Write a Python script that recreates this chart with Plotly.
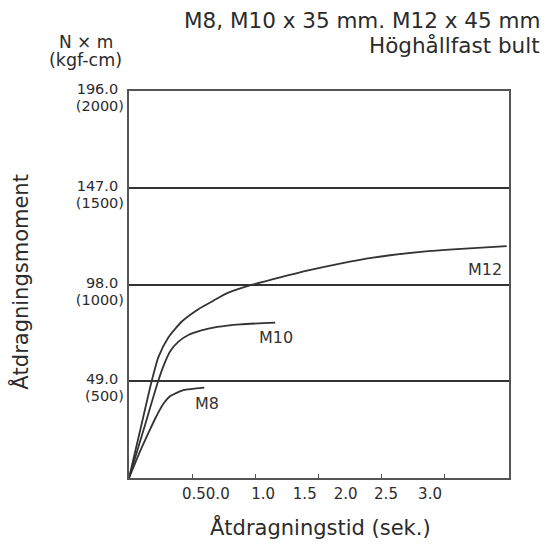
import plotly.graph_objects as go

# Data
m12_t = [0, 0.091, 0.178, 0.233, 0.313, 0.423, 0.550, 0.669, 0.779, 0.977, 1.143, 1.412, 1.673, 1.934, 2.330, 2.599, 2.994]
m12_v = [0, 24.8, 48.6, 61.2, 71.3, 79.5, 85.5, 89.8, 93.6, 97.9, 100.7, 105.0, 108.6, 111.6, 114.6, 115.9, 117.4]
m10_t = [0, 0.115, 0.229, 0.273, 0.328, 0.392, 0.471, 0.566, 0.700, 0.882, 1.159]
m10_v = [0, 24.3, 48.6, 56.7, 64.3, 69.1, 72.4, 74.6, 76.5, 77.8, 78.7]
m8_t = [0, 0.075, 0.154, 0.210, 0.265, 0.328, 0.431, 0.597]
m8_v = [0, 11.6, 22.8, 30.4, 36.9, 41.5, 44.5, 45.8]
series_names = ["M12", "M10", "M8"]

y_ticks = [49, 98, 147, 196]
y_tick_nm = ["49.0", "98.0", "147.0", "196.0"]
y_tick_kgf = ["(500)", "(1000)", "(1500)", "(2000)"]

x_tick_marks = [0.5, 1.0, 1.5, 2.0, 2.5]
x_label_pos = [0.609, 1.063, 1.393, 1.717, 2.037, 2.386]
x_label_text = ["0.50.0", "1.0", "1.5", "2.0", "2.5", "3.0"]

FONT = "DejaVu Sans"
INK = "#2b2b2b"
LINE = "#333333"

fig = go.Figure()
label_shift = {"M12": (-22, -23), "M10": (1, -15), "M8": (3, -16)}
for name, t, v in zip(series_names, [m12_t, m10_t, m8_t], [m12_v, m10_v, m8_v]):
    fig.add_trace(go.Scatter(x=t, y=v, mode="lines", line=dict(color=LINE, width=1.8, shape="spline", smoothing=0.6),
                             showlegend=False, hoverinfo="skip"))
    dx, dy = label_shift[name]
    fig.add_annotation(x=t[-1], y=v[-1], text=name, showarrow=False, xanchor="center", yanchor="middle",
                       xshift=dx, yshift=dy, font=dict(family=FONT, size=16, color="#333"))

# dummy traces so overlay axes render
fig.add_trace(go.Scatter(x=[None], y=[None], xaxis="x2", yaxis="y", showlegend=False))
fig.add_trace(go.Scatter(x=[None], y=[None], xaxis="x", yaxis="y2", showlegend=False))

XR = [0, 3.012]
YR = [0, 196]

fig.update_layout(
    width=546, height=546,
    margin=dict(l=128.5, r=37, t=91, b=68),
    paper_bgcolor="white", plot_bgcolor="white",
    font=dict(family=FONT, color=INK),
    xaxis=dict(range=XR, tickvals=x_tick_marks, showticklabels=False, ticks="inside", ticklen=4,
               tickcolor="#555", tickwidth=1.3, showgrid=False, zeroline=False,
               showline=True, linecolor="#555", linewidth=1.8, mirror=True),
    xaxis2=dict(range=XR, overlaying="x", anchor="y", side="bottom", tickvals=x_label_pos, ticktext=x_label_text,
                ticks="", showgrid=False, zeroline=False, showline=False,
                tickfont=dict(family=FONT, size=15, color=INK), ticklabelstandoff=5),
    yaxis=dict(range=YR, tickvals=y_ticks, ticktext=y_tick_nm, ticks="", showgrid=True, gridcolor="#333333",
               gridwidth=1.6, zeroline=False, showline=True, linecolor="#555", linewidth=1.8, mirror=True,
               tickfont=dict(family=FONT, size=14.5, color=INK), ticklabelshift=-2, ticklabelstandoff=6),
    yaxis2=dict(range=YR, overlaying="y", anchor="x", side="left", tickvals=y_ticks, ticktext=y_tick_kgf,
                ticks="", showgrid=False, zeroline=False, showline=False,
                tickfont=dict(family=FONT, size=14.5, color=INK), ticklabelshift=15, ticklabelstandoff=4),
)

anns = [
    dict(text="M8, M10 x 35 mm. M12 x 45 mm", x=1.0867, y=1.1826, xanchor="right", size=21.5),
    dict(text="Höghållfast bult", x=1.0867, y=1.118, xanchor="right", size=21.5),
    dict(text="N × m", x=-0.1143, y=1.1265, xanchor="center", size=17),
    dict(text="(kgf-cm)", x=-0.1143, y=1.079, xanchor="center", size=17.5),
    dict(text="Åtdragningstid (sek.)", x=0.503, y=-0.1265, xanchor="center", size=21),
]
for a in anns:
    fig.add_annotation(text=a["text"], x=a["x"], y=a["y"], xref="paper", yref="paper", showarrow=False,
                       xanchor=a["xanchor"], yanchor="middle", font=dict(family=FONT, size=a["size"], color=INK))
fig.add_annotation(text="Åtdragningsmoment", x=-0.2852, y=0.506, xref="paper", yref="paper", showarrow=False,
                   textangle=-90, xanchor="center", yanchor="middle", font=dict(family=FONT, size=21, color=INK))

fig.write_html("out.html", config={"displayModeBar": False},
               post_script="document.body.style.margin='0';document.body.style.padding='0';")
